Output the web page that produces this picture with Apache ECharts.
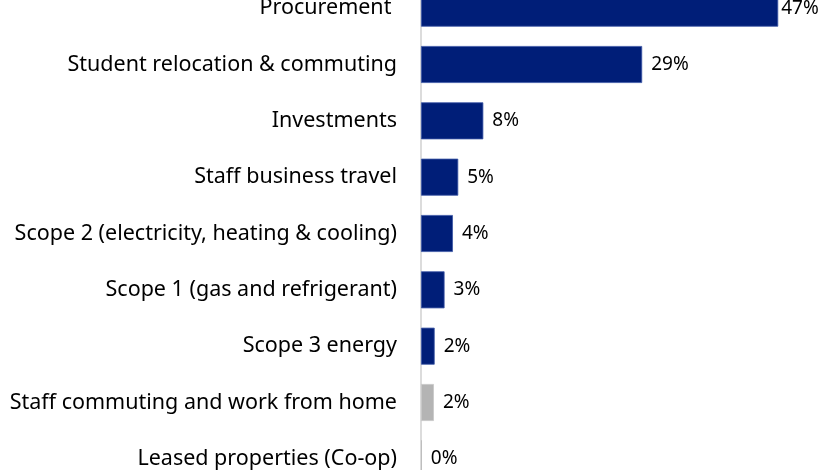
<!DOCTYPE html>
<html>
<head>
<meta charset="utf-8">
<script src="https://cdn.jsdelivr.net/npm/echarts@6/dist/echarts.min.js"></script>
<style>html,body{margin:0;padding:0;background:#fff;overflow:hidden;}#c{width:828px;height:510px;margin-top:-20px;}</style>
</head>
<body>
<div id="c"></div>
<script>
const categories = [
  "Procurement ",
  "Student relocation & commuting",
  "Investments",
  "Staff business travel",
  "Scope 2 (electricity, heating & cooling)",
  "Scope 1 (gas and refrigerant)",
  "Scope 3 energy",
  "Staff commuting and work from home",
  "Leased properties (Co-op)"
];
const values = [47.0, 29.1, 8.2, 4.9, 4.2, 3.1, 1.8, 1.7, 0.1];
const barColors = ["#001e78","#001e78","#001e78","#001e78","#001e78","#001e78","#001e78","#b4b4b4","#b4b4b4"];

const chart = echarts.init(document.getElementById('c'));
const FONT = 'Noto Sans';
chart.setOption({
  animation: false,
  grid: { left: 421, right: 27, top: 0, height: 507, containLabel: false },
  xAxis: { type: 'value', min: 0, max: 50, show: false },
  yAxis: {
    type: 'category', data: categories, inverse: true,
    axisLine: { show: true, lineStyle: { color: '#dcdcdc', width: 2 } },
    axisTick: { show: false },
    axisLabel: { margin: 24, color: '#000', fontFamily: FONT, fontSize: 21.5, padding: [4, 0, 0, 0] }
  },
  series: [{
    type: 'bar',
    barWidth: 37,
    data: values.map((v, i) => ({
      value: v,
      itemStyle: { color: barColors[i], borderColor: i === 7 ? '#c8c8c8' : '#3b57a6', borderWidth: v > 0.5 ? 0.8 : 0 },
      label: i === 0 ? { distance: 3 } : undefined
    })),
    label: {
      show: true, position: 'right', distance: 9, color: '#000',
      fontFamily: FONT, fontSize: 19, padding: [5, 0, 0, 0],
      formatter: p => Math.round(p.value) + '%'
    }
  }]
});
</script>
</body>
</html>
